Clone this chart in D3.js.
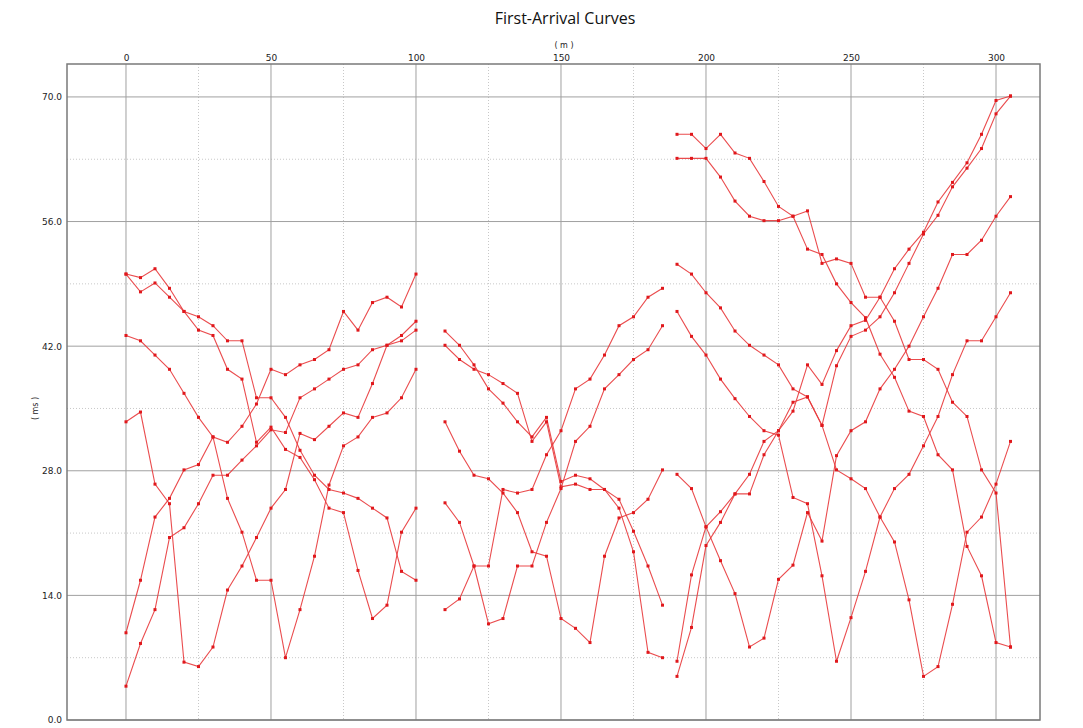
<!DOCTYPE html>
<html><head><meta charset="utf-8">
<script src="https://cdn.jsdelivr.net/npm/d3@7"></script>
<style>body{margin:0;background:#fff;} svg{display:block;}</style>
</head><body><svg id="chart" width="1083" height="728"></svg>
<script>
// ---- data ----
const title = "First-Arrival Curves";
const xLabel = "( m )";
const yLabel = "( ms )";
const xTicks = [0, 50, 100, 150, 200, 250, 300];
const xMinor = [25, 75, 125, 175, 225, 275];
const yTicks = [0, 14, 28, 42, 56, 70];
const yMinor = [7, 21, 35, 49, 63];

const xLeftSeg = [0,5,10,15,20,25,30,35,40,45,50,55,60,65,70,75,80,85,90,95,100];
const L1 = [9.8,15.7,22.8,24.9,28.1,28.7,31.8,31.2,33.0,35.5,39.4,38.8,39.9,40.5,41.6,45.9,43.8,46.9,47.5,46.4,50.1];
const L2 = [3.8,8.6,12.4,20.5,21.6,24.3,27.5,27.5,29.2,30.8,32.6,32.3,36.2,37.2,38.3,39.4,39.9,41.6,42.1,43.2,44.8];
const L3 = [33.5,34.6,26.5,24.3,6.5,6.0,8.2,14.6,17.3,20.5,23.8,25.9,32.2,31.5,33.0,34.5,34.0,37.8,42.1,42.6,43.8];
const L4 = [43.2,42.6,41.0,39.4,36.7,34.0,31.8,24.9,21.1,15.7,15.7,7.0,12.4,18.4,26.4,30.8,31.8,34.0,34.5,36.2,39.4];
const L5 = [50.1,49.7,50.7,48.5,45.9,45.3,44.3,42.6,42.6,36.2,36.2,34.0,30.3,27.5,25.9,25.5,24.9,23.8,22.7,16.7,15.7];
const L6 = [50.1,48.1,49.1,47.5,45.9,43.8,43.2,39.4,38.3,31.2,32.9,30.4,29.5,27.0,23.8,23.3,16.8,11.4,12.9,21.1,23.8];

const xMidSeg = [110,115,120,125,130,135,140,145,150,155,160,165,170,175,180,185];
const M1 = [43.7,42.1,39.9,37.2,35.6,33.5,31.8,34.0,26.8,27.5,27.1,25.9,23.8,18.9,7.6,7.0];
const M2 = [42.1,40.5,39.4,38.8,37.8,36.7,31.3,33.5,26.2,26.5,25.9,25.9,24.8,21.2,17.3,12.9];
const M3 = [12.4,13.6,17.3,17.3,25.9,25.5,25.9,29.8,32.5,37.2,38.3,41.0,44.3,45.3,47.5,48.5];
const M4 = [24.4,22.2,17.3,10.8,11.4,17.3,17.3,22.2,26.0,31.3,33.0,37.2,38.8,40.5,41.6,44.3];
const M5 = [33.5,30.2,27.5,27.1,25.5,23.3,18.9,18.4,11.4,10.3,8.7,18.4,22.7,23.3,24.8,28.1];

const xRightSeg = [190,195,200,205,210,215,220,225,230,235,240,245,250,255,260,265,270,275,280,285,290,295,300,305];
const R1 = [65.8,65.8,64.2,65.8,63.7,63.1,60.5,57.7,56.6,57.2,51.3,51.8,51.3,47.5,47.5,44.8,40.5,40.5,39.4,35.7,34.1,28.1,25.5,8.2];
const R2 = [63.1,63.1,63.1,61.0,58.3,56.6,56.1,56.1,56.6,52.9,52.3,49.0,46.9,45.2,41.1,38.5,34.7,34.1,29.8,28.1,19.5,16.2,8.7,8.2];
const R3 = [51.2,50.1,48.0,46.3,43.7,42.1,41.0,39.9,37.2,36.3,33.1,28.1,27.1,26.0,22.8,20.0,13.5,4.9,6.0,13.0,21.1,22.8,26.5,31.3];
const R4 = [45.9,43.1,41.0,38.3,36.1,34.1,32.5,32.0,25.0,24.3,16.2,6.6,11.5,16.7,22.8,26.0,27.6,30.8,34.1,38.8,42.6,42.6,45.3,48.0];
const R5 = [27.6,26.0,21.7,17.9,14.2,8.2,9.2,15.8,17.4,23.3,20.1,29.7,32.5,33.5,37.2,39.4,42.0,45.3,48.5,52.3,52.3,53.9,56.6,58.8];
const R6 = [6.6,16.3,21.7,23.4,25.4,27.6,31.3,32.5,34.7,39.9,37.7,41.5,44.3,44.9,47.5,50.7,52.9,54.8,58.2,60.4,62.6,65.8,69.6,70.1];
const R7 = [4.9,10.4,19.6,22.2,25.4,25.4,29.8,32.5,35.7,36.3,33.1,39.8,43.1,43.8,45.3,48.0,51.3,54.6,56.7,59.9,62.0,64.2,68.1,70.1];

const segments = [
  {x: xLeftSeg, series: [L1, L2, L3, L4, L5, L6]},
  {x: xMidSeg, series: [M1, M2, M3, M4, M5]},
  {x: xRightSeg, series: [R1, R2, R3, R4, R5, R6, R7]}
];

// ---- layout ----
const svg = d3.select("#chart");
const plot = {left: 67, right: 1040, top: 64, bottom: 720};
const x = d3.scaleLinear().domain([-20.34, 315.17]).range([plot.left, plot.right]);
const y = d3.scaleLinear().domain([0, 73.7]).range([plot.bottom, plot.top]);
const font = "'DejaVu Sans', sans-serif";

svg.append("rect").attr("width", 1083).attr("height", 728).attr("fill", "#fff");

// grid
const g = svg.append("g");
g.selectAll("line.vminor").data(xMinor).join("line")
  .attr("x1", d => x(d)).attr("x2", d => x(d)).attr("y1", plot.top).attr("y2", plot.bottom)
  .attr("stroke", "#c8c8c8").attr("stroke-width", 1).attr("stroke-dasharray", "1,2");
g.selectAll("line.hminor").data(yMinor).join("line")
  .attr("x1", plot.left).attr("x2", plot.right).attr("y1", d => y(d)).attr("y2", d => y(d))
  .attr("stroke", "#c8c8c8").attr("stroke-width", 1).attr("stroke-dasharray", "1,2");
g.selectAll("line.vmajor").data(xTicks).join("line")
  .attr("x1", d => x(d)).attr("x2", d => x(d)).attr("y1", plot.top).attr("y2", plot.bottom)
  .attr("stroke", "#a0a0a0").attr("stroke-width", 1);
g.selectAll("line.hmajor").data(yTicks).join("line")
  .attr("x1", plot.left).attr("x2", plot.right).attr("y1", d => y(d)).attr("y2", d => y(d))
  .attr("stroke", "#a0a0a0").attr("stroke-width", 1);

// frame
svg.append("rect").attr("x", plot.left).attr("y", plot.top)
  .attr("width", plot.right - plot.left).attr("height", plot.bottom - plot.top)
  .attr("fill", "none").attr("stroke", "#7a7a7a").attr("stroke-width", 1.5);

// axes
const xAxis = d3.axisTop(x).tickValues(xTicks).tickSize(0).tickPadding(0).tickFormat(d3.format("d"));
const xa = svg.append("g").attr("transform", `translate(0,${plot.top - 3})`).call(xAxis);
xa.select(".domain").remove();
xa.selectAll("text").attr("font-size", 9).attr("font-family", font).attr("fill", "#222");

const yAxis = d3.axisLeft(y).tickValues(yTicks).tickSize(0).tickPadding(5).tickFormat(d3.format(".1f"));
const ya = svg.append("g").attr("transform", `translate(${plot.left},0)`).call(yAxis);
ya.select(".domain").remove();
ya.selectAll("text").attr("font-size", 9).attr("font-family", font).attr("fill", "#222");

svg.append("text").attr("x", 565).attr("y", 24).attr("text-anchor", "middle")
  .attr("font-family", "'Open Sans', 'DejaVu Sans', sans-serif").attr("font-size", 16).attr("fill", "#111")
  .text(title);
svg.append("text").attr("x", x(150) + 3).attr("y", 48).attr("text-anchor", "middle")
  .attr("font-family", font).attr("font-size", 8).attr("fill", "#222").text(xLabel);
svg.append("text").attr("transform", `translate(38,${y(35)}) rotate(-90)`).attr("text-anchor", "middle")
  .attr("font-family", font).attr("font-size", 8).attr("fill", "#222").text(yLabel);

// curves
const line = d3.line().x(d => x(d[0])).y(d => y(d[1]));
const curves = svg.append("g");
segments.forEach(seg => {
  seg.series.forEach(vals => {
    const pts = seg.x.map((xv, i) => [xv, vals[i]]);
    curves.append("path").attr("d", line(pts)).attr("fill", "none")
      .attr("stroke", "#e8383b").attr("stroke-width", 1.1).attr("stroke-opacity", 0.9);
    curves.selectAll(null).data(pts).join("rect")
      .attr("x", d => x(d[0]) - 1.5).attr("y", d => y(d[1]) - 1.5)
      .attr("width", 3).attr("height", 3).attr("fill", "#e0181c");
  });
});
</script></body></html>
